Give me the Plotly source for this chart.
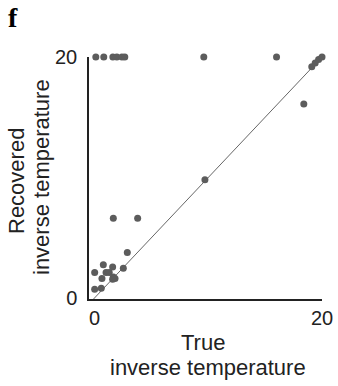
import plotly.graph_objects as go

# Data
true_vals = [0.1, 0.8, 1.6, 1.95, 2.4, 2.65, 9.6, 16.0,
             19.1, 19.4, 19.7, 20.0, 18.4, 9.7,
             1.64, 3.78, 2.87, 2.52, 0.76, 0.0, 1.0, 1.28, 1.58,
             0.64, 1.64, 1.79, 1.58, 0.0, 0.58]
recovered_vals = [20.0, 20.0, 20.0, 20.0, 20.0, 20.0, 20.0, 20.0,
                  19.2, 19.5, 19.8, 20.0, 16.1, 9.8,
                  6.6, 6.6, 3.76, 2.46, 2.74, 2.1, 2.1, 2.1, 2.55,
                  1.6, 1.72, 1.6, 1.55, 0.72, 0.8]
identity = [-0.5, 20.0]
tick_vals = [0, 20]
tick_text = ["0", "20"]

fig = go.Figure()
fig.add_trace(go.Scatter(x=identity, y=identity, mode="lines",
                         line=dict(color="#666666", width=1),
                         hoverinfo="skip", showlegend=False))
fig.add_trace(go.Scatter(x=true_vals, y=recovered_vals, mode="markers",
                         marker=dict(color="#5c5c5c", size=7),
                         cliponaxis=False, showlegend=False))

font_main = "Liberation Sans, Arial, sans-serif"

fig.update_layout(
    width=338, height=386,
    margin=dict(l=89, r=16, t=57, b=87, autoexpand=False),
    paper_bgcolor="white", plot_bgcolor="white",
    font=dict(family=font_main, color="#222222"),
    xaxis=dict(range=[-0.5, 20.0], tickvals=tick_vals, ticktext=tick_text,
               showgrid=False, zeroline=False, showline=True,
               linecolor="#222222", linewidth=1.5, ticks="",
               tickfont=dict(size=20, color="#222222")),
    yaxis=dict(range=[-0.1, 20.0], tickvals=tick_vals, ticktext=tick_text,
               showgrid=False, zeroline=False, showline=True,
               linecolor="#222222", linewidth=1.5, ticks="",
               tickfont=dict(size=20, color="#222222"), ticklabelstandoff=6),
    annotations=[
        dict(text="<b>f</b>", xref="paper", yref="paper",
             x=(13 - 89) / 233, y=(299 - 18) / 242,
             xanchor="center", yanchor="middle", showarrow=False,
             font=dict(family="Liberation Serif, Times New Roman, serif",
                       size=28, color="black")),
        dict(text="True", xref="paper", yref="paper",
             x=(203 - 89) / 233, y=(299 - 342) / 242,
             xanchor="center", yanchor="middle", showarrow=False,
             font=dict(size=22)),
        dict(text="inverse temperature", xref="paper", yref="paper",
             x=(208 - 89) / 233, y=(299 - 367) / 242,
             xanchor="center", yanchor="middle", showarrow=False,
             font=dict(size=22)),
        dict(text="Recovered", xref="paper", yref="paper", textangle=-90,
             x=(16 - 89) / 233, y=(299 - 181) / 242,
             xanchor="center", yanchor="middle", showarrow=False,
             font=dict(size=22)),
        dict(text="inverse temperature", xref="paper", yref="paper", textangle=-90,
             x=(41 - 89) / 233, y=(299 - 177) / 242,
             xanchor="center", yanchor="middle", showarrow=False,
             font=dict(size=22)),
    ],
)

fig.write_html("out.html", config={"displayModeBar": False},
               post_script="document.body.style.margin='0';document.body.style.overflow='hidden';")
